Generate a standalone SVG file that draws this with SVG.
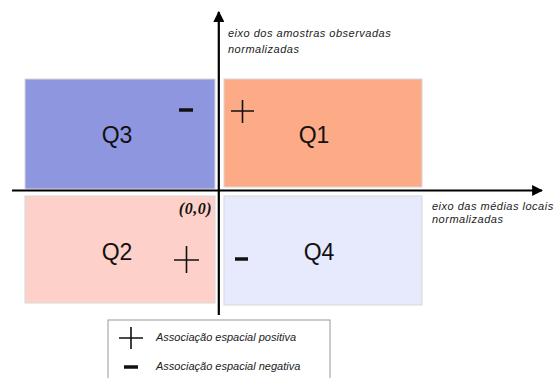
<svg xmlns="http://www.w3.org/2000/svg" width="555" height="378" viewBox="0 0 555 378">
<defs>
<style>
.q{stroke:#d8d8d8;stroke-width:1}
.ql{font-family:"Liberation Sans",Arial,sans-serif;font-size:23px;fill:#111;text-anchor:middle}
.ax{font-family:"Liberation Sans",Arial,sans-serif;font-size:11px;font-style:italic;fill:#222;letter-spacing:0.5px}
.lg{font-family:"Liberation Sans",Arial,sans-serif;font-size:11px;font-style:italic;fill:#222}
.sym{stroke:#111;stroke-width:1.6;fill:none}
.dash{stroke:#111;stroke-width:3.5}
.axis{stroke:#000;stroke-width:2.2;fill:none}
</style>
<marker id="ah" viewBox="0 0 10 10" refX="9" refY="5" markerWidth="5" markerHeight="5" orient="auto" markerUnits="strokeWidth">
<path d="M0,0 L10,5 L0,10 z" fill="#000"/>
</marker>
</defs>
<rect width="555" height="378" fill="#fff"/>
<g id="Q3"><rect class="q" x="25" y="79" width="190" height="110" fill="#8e96e0"/><text class="ql" x="117" y="143">Q3</text><line class="dash" x1="179" y1="110" x2="193" y2="110"/></g>
<g id="Q1"><rect class="q" x="224" y="79" width="198" height="108" fill="#fdab87"/><text class="ql" x="314" y="143">Q1</text><path class="sym" d="M231,111 H254 M242.5,100 V123"/></g>
<g id="Q2"><rect class="q" x="25" y="196" width="190" height="107" fill="#fdd1c9"/><text class="ql" x="117" y="260">Q2</text><path class="sym" d="M174,260 H199 M186.5,246 V273"/></g>
<g id="Q4"><rect class="q" x="224" y="196" width="198" height="109" fill="#e7e9fd"/><text class="ql" x="319" y="260">Q4</text><line class="dash" x1="235" y1="259" x2="248" y2="259"/></g>
<g id="connectors">
<line class="axis" x1="218.8" y1="315" x2="218.8" y2="12" marker-end="url(#ah)"/>
<line class="axis" x1="12" y1="190.5" x2="542" y2="190.5" marker-end="url(#ah)"/>
</g>
<g id="labels">
<text class="ax" x="228" y="37">eixo dos amostras observadas</text>
<text class="ax" x="228" y="53">normalizadas</text>
<text class="ax" x="432" y="210">eixo das médias locais</text>
<text class="ax" x="432" y="223">normalizadas</text>
<text x="212" y="214" text-anchor="end" font-family="Liberation Serif,serif" font-size="16" font-weight="bold" font-style="italic" letter-spacing="0.5" fill="#111">(0,0)</text>
</g>
<g id="legend">
<rect x="108" y="320" width="222" height="62" fill="#fff" stroke="#999" stroke-width="1"/>
<path class="sym" d="M119,338 H143 M131,327 V349"/>
<text class="lg" x="156" y="341">Associação espacial positiva</text>
<line class="dash" x1="124" y1="367" x2="138" y2="367"/>
<text class="lg" x="156" y="370">Associação espacial negativa</text>
</g>
</svg>
